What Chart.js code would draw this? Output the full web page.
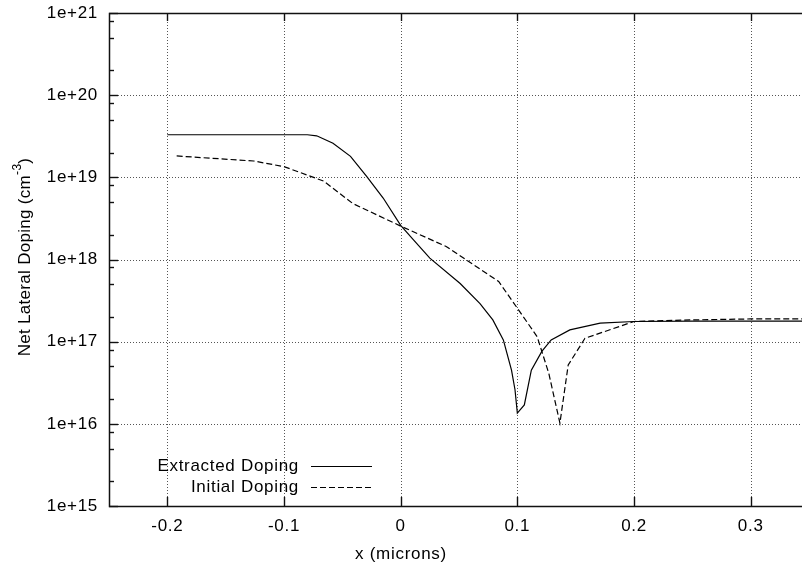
<!DOCTYPE html>
<html>
<head>
<meta charset="utf-8">
<script src="https://cdn.jsdelivr.net/npm/chart.js@4.4.1/dist/chart.umd.min.js"></script>
<style>
  body { margin: 0; background: #fff; }
  canvas { display: block; }
</style>
</head>
<body>
<canvas id="doping" width="802" height="565"></canvas>
<script>
// net lateral doping along x (microns), in cm^-3
const extractedX = [-0.2, -0.08, -0.072, -0.058, -0.043, -0.029, -0.015, 0.0, 0.011, 0.025, 0.051,
  0.068, 0.079, 0.088, 0.095, 0.098, 0.1, 0.106, 0.112, 0.121, 0.129, 0.145, 0.171, 0.2, 0.25, 0.344]
const extractedY = [3.3e19, 3.3e19, 3.2e19, 2.6e19, 1.8e19, 1.02e19, 5.6e18, 2.6e18, 1.73e18, 1.04e18, 5.1e17,
  2.9e17, 1.84e17, 1.05e17, 4.5e16, 2.6e16, 1.35e16, 1.7e16, 4.5e16, 7.6e16, 1.05e17, 1.39e17, 1.68e17, 1.76e17, 1.78e17, 1.78e17]

const initialX = [-0.192, -0.126, -0.1, -0.066, -0.041, 0.0, 0.039, 0.084, 0.101, 0.117,
  0.127, 0.1365, 0.1436, 0.158, 0.2, 0.25, 0.3, 0.344]
const initialY = [1.82e19, 1.58e19, 1.35e19, 9.0e18, 4.8e18, 2.55e18, 1.44e18, 5.4e17, 2.44e17, 1.15e17,
  4.1e16, 1.02e16, 5.2e16, 1.1e17, 1.76e17, 1.84e17, 1.89e17, 1.89e17]

const xTicks = [-0.2, -0.1, 0, 0.1, 0.2, 0.3]
const yDecades = [15, 16, 17, 18, 19, 20, 21]
const yMinor = [2, 5, 8]

const FONT = "'Liberation Sans', Arial, sans-serif"
Chart.defaults.font.family = FONT
Chart.defaults.font.size = 17
Chart.defaults.color = '#000'

function pares(xs, ys) {
    let out = []
    for (let i = 0; i < xs.length; i++) out.push({ x: xs[i], y: ys[i] })
    return out
}

function isDecade(v) {
    let e = Math.log10(v)
    return Math.abs(e - Math.round(e)) < 1e-6
}

// grid, frame and inward ticks in gnuplot style
const moldura = {
    id: 'moldura',
    beforeDraw(chart) {
        // slightly wider lettering, like the gnuplot png output
        chart.ctx.letterSpacing = '0.7px'
    },
    beforeDatasetsDraw(chart) {
        const { ctx, chartArea: a, scales: { x, y } } = chart
        ctx.save()
        ctx.strokeStyle = '#555'
        ctx.lineWidth = 1
        ctx.setLineDash([1, 2])
        xTicks.forEach(v => {
            let px = Math.round(x.getPixelForValue(v)) + 0.5
            ctx.beginPath(); ctx.moveTo(px, a.top); ctx.lineTo(px, a.bottom); ctx.stroke()
        })
        yDecades.slice(1, -1).forEach(e => {
            let py = Math.round(y.getPixelForValue(Math.pow(10, e))) + 0.5
            ctx.beginPath(); ctx.moveTo(a.left, py); ctx.lineTo(a.right, py); ctx.stroke()
        })
        ctx.setLineDash([])
        ctx.strokeStyle = '#111'
        ctx.lineWidth = 1.4
        // x ticks, bottom and top
        xTicks.forEach(v => {
            let px = Math.round(x.getPixelForValue(v)) + 0.5
            ctx.beginPath(); ctx.moveTo(px, a.bottom); ctx.lineTo(px, a.bottom - 9); ctx.stroke()
            ctx.beginPath(); ctx.moveTo(px, a.top); ctx.lineTo(px, a.top + 8); ctx.stroke()
        })
        // y ticks, majors and minors
        yDecades.forEach(e => {
            let py = Math.round(y.getPixelForValue(Math.pow(10, e))) + 0.5
            ctx.beginPath(); ctx.moveTo(a.left, py); ctx.lineTo(a.left + 9, py); ctx.stroke()
            if (e < 21) {
                yMinor.forEach(m => {
                    let pm = Math.round(y.getPixelForValue(m * Math.pow(10, e))) + 0.5
                    ctx.beginPath(); ctx.moveTo(a.left, pm); ctx.lineTo(a.left + 5, pm); ctx.stroke()
                })
            }
        })
        // frame: left, bottom, top
        ctx.lineWidth = 1.5
        ctx.beginPath()
        ctx.moveTo(a.right, a.top + 0.5)
        ctx.lineTo(a.left + 0.5, a.top + 0.5)
        ctx.lineTo(a.left + 0.5, a.bottom + 0.5)
        ctx.lineTo(a.right, a.bottom + 0.5)
        ctx.stroke()
        ctx.restore()
    },
    afterDraw(chart) {
        const { ctx } = chart
        ctx.save()
        ctx.fillStyle = '#000'
        ctx.font = '17px ' + FONT
        ctx.textBaseline = 'middle'

        // x title
        ctx.textAlign = 'center'
        ctx.fillText('x (microns)', 401, 554)

        // y title with superscript
        ctx.letterSpacing = '0.3px'
        let p1 = 'Net Lateral Doping (cm', sup = '-3', p2 = ')'
        ctx.font = '17px ' + FONT
        let w1 = ctx.measureText(p1).width, w3 = ctx.measureText(p2).width
        ctx.font = '12px ' + FONT
        let w2 = ctx.measureText(sup).width
        let total = w1 + w2 + w3
        ctx.translate(25, 257)
        ctx.rotate(-Math.PI / 2)
        ctx.textAlign = 'left'
        let sx = -total / 2
        ctx.font = '17px ' + FONT
        ctx.fillText(p1, sx, 0)
        ctx.font = '12px ' + FONT
        ctx.fillText(sup, sx + w1, -7)
        ctx.font = '17px ' + FONT
        ctx.fillText(p2, sx + w1 + w2, 0)
        ctx.setTransform(1, 0, 0, 1, 0, 0)
        ctx.letterSpacing = '0.7px'

        // key
        const rows = [466, 487]
        chart.data.datasets.forEach((ds, i) => {
            ctx.font = '17px ' + FONT
            ctx.textAlign = 'right'
            ctx.fillStyle = '#000'
            ctx.fillText(ds.label, 299, rows[i])
            ctx.strokeStyle = ds.borderColor
            ctx.lineWidth = ds.borderWidth
            ctx.setLineDash(ds.borderDash || [])
            ctx.beginPath()
            ctx.moveTo(311, rows[i] + 0.5)
            ctx.lineTo(372, rows[i] + 0.5)
            ctx.stroke()
        })
        ctx.restore()
    }
}

const ctx = document.getElementById('doping')

myChart = new Chart(ctx, {
    type: 'line',
    data: {
        datasets: [{
            label: 'Extracted Doping',
            data: pares(extractedX, extractedY),
            borderColor: '#000',
            borderWidth: 1.2,
            pointRadius: 0,
            tension: 0,
            fill: false
        }, {
            label: 'Initial Doping',
            data: pares(initialX, initialY),
            borderColor: '#000',
            borderWidth: 1.2,
            borderDash: [6, 3],
            pointRadius: 0,
            tension: 0,
            fill: false
        }]
    },
    plugins: [moldura],
    options: {
        responsive: false,
        animation: false,
        devicePixelRatio: 1,
        layout: { padding: { top: 13, right: 0, left: 0, bottom: 0 } },
        plugins: {
            legend: { display: false },
            tooltip: { enabled: false }
        },
        scales: {
            x: {
                type: 'linear',
                min: -0.25,
                max: 0.344,
                afterBuildTicks: scale => { scale.ticks = xTicks.map(v => ({ value: v })) },
                afterFit: scale => { scale.height = 59 },
                ticks: {
                    autoSkip: false,
                    maxRotation: 0,
                    padding: 0,
                    callback: v => String(Math.round(v * 10) / 10)
                },
                grid: { drawOnChartArea: false, drawTicks: true, tickLength: 10, color: 'rgba(0,0,0,0)', tickColor: 'rgba(0,0,0,0)' },
                border: { display: false }
            },
            y: {
                type: 'logarithmic',
                min: 1e15,
                max: 1e21,
                afterBuildTicks: scale => {
                    let t = []
                    yDecades.forEach(e => {
                        t.push({ value: Math.pow(10, e) })
                        if (e < 21) yMinor.forEach(m => t.push({ value: m * Math.pow(10, e) }))
                    })
                    scale.ticks = t
                },
                afterFit: scale => { scale.width = 109 },
                ticks: {
                    autoSkip: false,
                    padding: 0,
                    callback: v => isDecade(v) ? '1e+' + Math.round(Math.log10(v)) : ''
                },
                grid: { drawOnChartArea: false, drawTicks: true, tickLength: 11, color: 'rgba(0,0,0,0)', tickColor: 'rgba(0,0,0,0)' },
                border: { display: false }
            }
        }
    }
})
</script>
</body>
</html>
